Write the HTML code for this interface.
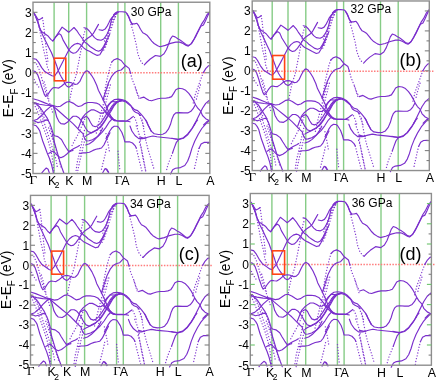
<!DOCTYPE html>
<html><head><meta charset="utf-8"><style>
*{margin:0;padding:0}
html,body{width:438px;height:380px;background:#fff;overflow:hidden}
svg{display:block;position:absolute;left:0;top:0;will-change:transform}
text{font-family:"Liberation Sans",sans-serif;fill:#000}
.g{stroke:#86cc86;stroke-width:1.4}
.r{stroke:#ff7c7c;stroke-width:1.4;stroke-dasharray:1.5 1.4}
.fr{fill:none;stroke:#8e8e8e;stroke-width:1.4}
.t{stroke:#808080;stroke-width:1.1}
.tl{font-size:12px;text-anchor:end}
.xl{font-size:12.4px}
.xg{font-family:"Liberation Serif",serif;font-size:13px}
.sub{font-size:8.5px}
.pr{font-size:12px}
.lb{font-size:18px}
.ob{fill:none;stroke:#ff4515;stroke-width:1.6}
.yl{font-size:14px}
.ysub{font-size:10px}
.s{fill:none;stroke:#7a2ecc;stroke-width:1.15;stroke-linejoin:round;stroke-linecap:round}
.d{fill:none;stroke:#8038d0;stroke-width:1.35;stroke-dasharray:0.01 2.9;stroke-linecap:round}
</style></head><body>
<svg width="438" height="380" viewBox="0 0 438 380">
<line x1="54.1" y1="2.23" x2="54.1" y2="173.5" class="g"/>
<line x1="68.7" y1="2.23" x2="68.7" y2="173.5" class="g"/>
<line x1="86.6" y1="2.23" x2="86.6" y2="173.5" class="g"/>
<line x1="117.9" y1="2.23" x2="117.9" y2="173.5" class="g"/>
<line x1="124.9" y1="2.23" x2="124.9" y2="173.5" class="g"/>
<line x1="160.7" y1="2.23" x2="160.7" y2="173.5" class="g"/>
<line x1="178.4" y1="2.23" x2="178.4" y2="173.5" class="g"/>
<line x1="33" y1="72.75" x2="207" y2="72.75" class="r"/>
<polyline points="33.4,12.3 36.2,16.5 38.5,20 40.5,19 42.5,17.8" class="s"/>
<polyline points="33.4,12.3 35.5,16 37.7,22 39.3,27.3 41.4,31.5 44.5,33.6 47.7,35.7 50.8,39.4 52.9,41 54.5,38.8 57.2,34.6 60,30.4 62.1,27.1 65.6,29.8 68.7,32.3 70.9,30.4 74,27.5 77.2,31.2 79,34 81.2,37 83,39.5 84.1,41.4 85.6,42.8 87.8,44.3 90,46.5 92.7,48.3 95.8,50.3 98.5,51.2 101.1,50.1 103.7,46.2 105.7,42.2 107.7,38.3 109.7,34.3" class="s"/>
<polyline points="52.9,41 55.5,37 57.5,35 59.1,33.6 61,35 62,37.3 63,39.9 66.2,45.4 68.8,49.9 70.8,52.1 73.1,53.3 75.6,52.8 77.9,50.6 79.7,48 81.5,45.7 83,43.2 84.1,41.4 86.3,39.2 88,38 90.6,36.3 93.2,33.7 95.8,29.1 98.5,24.4" class="s"/>
<polyline points="34.5,14 36.5,18.5 38.2,22.5 39.8,28.3 42.4,34.6 45.6,40.9 48.7,47.3 51.4,52.5 53.5,57.8 55.1,61.5 56.7,65.7 58.2,70.5 60,74.5 61.4,77.1 63.7,80.8 64.6,83.1 66.4,85.8 68.7,87.2 70.5,86.3 72.6,84" class="s"/>
<polyline points="33,58.6 36.2,59.3 38.5,62.1 41.7,67.6 44.8,71.6 48.8,74 52,75.8 54.3,76.3 56.7,73 58.2,70.7 61.4,64.5 64.6,58.2 67,53.4 68.8,49.9 71.6,46.5 74.5,44.3 77.5,43.4 79.7,44 81.5,45.7 83.4,47.6 85.2,49.1 87.1,50.2 90,51.6 93.2,53.4 97.2,55.4 99.8,54.7 101.8,51.4 103.7,47.5 106.4,42.2" class="s"/>
<polyline points="84,27.7 86.4,28.2 89.3,31 91.9,34.3 94.5,37.6 97.2,39.6 101.1,40.2 103.7,38.9 105.7,36.3 107.7,33 109.7,27.5 110.5,24 111.6,19 114.3,14.5 118,12" class="s"/>
<polyline points="99.1,29.7 102.4,30.4 105.1,29.1 107,26.4 109,22.5 110.3,19.8 112.3,17.2 115.6,13.9 118,12.4" class="s"/>
<polyline points="113.5,15 115,13.3 116.8,12.1 118.6,11.7 122.1,11.7 125.7,12.1 126.8,13.3 128.6,16.2 130.4,21 132.2,23.9 134.5,23.9 136.9,23.3 138.7,25.7 140.5,29.3 142.8,32.8 145.2,34 147,35.2 149.4,38.1 151.7,41.1 154.1,43.5 157.7,45.8 160,46.7 165.3,45.4 170.5,43.4 175.8,42.1 179.7,42.1 183,43.4 186.3,45.4 188.3,46.1 190.9,44.1 193.6,40.2 196.2,35.6 198.8,30.3 200.8,26.3 203.4,25 205.4,21.1 207.4,16.5 209.5,12.3" class="s"/>
<polyline points="126.8,13.6 128.8,17.2 130.6,21.8 132.4,24.6" class="s"/>
<polyline points="144.3,64.9 147,62 150.3,59 155.4,55.5 160.5,56.4 164,53.8 166.5,49.5 168.6,44.1 170.5,38.8 172.5,36 175.1,36.9 177.8,38.8 180.4,40.2 183,42.1 186.3,44.8 188.9,45.4 191.6,43.4 194.2,38.8 196.8,33.6 199.5,28.3 201.4,24.4 204.1,20.4 206.7,15.2 209.5,12" class="s"/>
<polyline points="33,70.8 35.4,71.6 37.7,74.8 40.1,81.5 41.5,86.4 43.1,90.8 44.2,94.1 45.6,96.5 47.5,95.2 49.2,92.4 50.8,90.2 52.4,88.3 54.1,87.5 56.3,87.8 58.7,88.1 61.4,86.3 64.6,83.5 66.5,82.4 68.7,82.2 70.8,82.6 72.8,83.5 75.1,84.4 77.4,84 79.7,81.7 81.9,77.1 83.8,73.5 85.6,71.2 87,70.7 88.8,71.7 91.5,75.3 93.8,79 96.7,85.3 98.4,90.3 101.1,95.5 103.7,100.8 106.3,106.1 108.3,111.3 110.9,116.6 113.6,119.2 116.2,120.5" class="s"/>
<polyline points="111.7,62.1 114.1,59.7 117.2,58.6 121.2,60.5 125.1,65.3 129.1,68.4 130.6,73.2" class="s"/>
<polyline points="103,100 105.4,92.1 108.5,82.7 111.7,76.3 114.9,72.4 118,70.8 121.2,70 125.1,66.1" class="s"/>
<polyline points="203.3,72.6 205.9,68.4 208.4,65.8 209.8,65.5" class="s"/>
<polyline points="140,98.3 143.7,97.1 146.3,98.7 148.9,100.3 151.6,100.8 154.7,99.7 157.9,98.7 161,98.2 165.3,98.2 168.9,97.6 171.6,96.6 173.7,93.4 175.8,89.7 178.8,88.2 182.5,88.7 185.7,90.3 188.8,93.4 191.5,97.1 193.6,100.8 195.7,105 197.8,108.2 200.4,110.8 202.5,115.5 205.7,118.7 209.6,120.8" class="s"/>
<polyline points="33,98.7 38.3,100.3 43.6,102.4 48.8,104.5 53.1,105.5 57.2,106.7 60.4,106.2 63.5,104.1 66.7,102 69.3,101.5 73,103.1 76.4,105.4 78.4,106.5 81.6,105.7 84.7,103.6 87.9,102.5 92.1,102.5 96.3,103.1 99.5,104.6 102.1,107.3 104.7,110.4 107.4,113.1 110,115.2 112.9,119.2 115.5,120.5 119.5,120.8 123.4,120.8 127.4,121.2 130,121.8" class="s"/>
<polyline points="33,102.4 36.2,103.4 39.4,104.3 45.6,105.2 50.5,105.5 53.1,105.8 56.2,108.8 60.4,112.5 64.6,116.2 68.8,119.9 73,123.6 76.4,127.1 79.5,130.5 83,133.7 84.6,138.4 86.4,141 89,140.8 92.5,139.7 97.8,136.6 102,132.4 105.7,127.6 109.4,121.8 112,119 114.5,120.6" class="s"/>
<polyline points="33,120.8 37.3,119.2 41.5,115.5 45.7,110.8 49.9,107.1 53.1,105.5" class="s"/>
<polyline points="53.1,105.8 55.2,110.8 56.7,117.1 58.8,121.3 60.9,123.6 64.6,124.1 67.7,122 69.3,119.9 71.4,117.8 73.2,116.2 76.3,116.2 78.9,117.8 81.1,120.4 83.2,123.6 85.5,128 88,131.5 91.5,132.9 96.7,130.3 101,126 104.6,120.8 107.5,116 110.5,110.5 113.5,105.5 117,101.8 121,100.2" class="s"/>
<polyline points="78.4,128 80.5,122.5 82.6,117.3 85.3,114.1 87.9,112 91.1,109.9 94.2,109.9 97.4,111.5 100,113.1 102.6,113.1 105.8,110.9 108.2,105.9 111.3,101.7 114.5,99.6 118.2,99.1 121.8,99.6 125,100.6 127.6,102.2 130.3,104.8 132.4,107.5 134.5,109.6 137.6,110.6 140.3,113.3 142.9,116.4 145,119.1 146.8,121.8 148,125 151.4,131.4 154.2,133.8 158.5,134.5 162.7,134.2 165.6,132.8 168.4,129.2 170.5,124.3 172.1,118.7 173.7,115 175.8,112.9 178.8,112.6 183.6,112.9 187.8,112.9 190.9,111.3 193.1,108.7 195.2,105" class="s"/>
<polyline points="82,118.5 83.7,117.8 86.3,116.2 88.4,118.3 90.5,122.5 92.6,125.7 95.3,126.7 97.9,125.7 100.5,123.1 103.2,119.4 105.8,115.2 107.9,112 110,109.4 112,106 114.5,103 118.2,101.7 121.8,100.6" class="s"/>
<polyline points="105,112.2 108.2,115.4 111.3,118.5 114.5,120.6 118.2,121.2 121.8,121.2 126.1,121.2 129.2,119.6 131.8,117.5 133.4,116.4" class="s"/>
<polyline points="106,108 109,104 112,101.5 115.5,101.7 121.8,100.6 126,102 131.3,106.4 133.4,110.6 135.5,112.2 138.5,113.5 140.5,115.5" class="s"/>
<polyline points="194.1,125 197.3,118.7 199.9,113.4 202.5,108.2 205.7,103.4 209.4,100.3" class="s"/>
<polyline points="203.6,125 206.7,121.8 209.4,120.3" class="s"/>
<polyline points="140,137 144.3,138.2 148.5,137 152.8,136 157,136.8 161.3,137.3 168.4,138 174.1,138.8 178.4,139.2 183.4,137.8 187.6,134.2 191.9,128.5 195.4,122.8 197.6,120" class="s"/>
<polyline points="172,138.2 178.4,139.6 183.4,138.3 187.6,134.8 191.9,129 195.4,123.3" class="s"/>
<polyline points="106,138.6 109.8,131 112,127.8 114.2,126.2 117,126.3 118.6,127.3 121.8,132.3 123.7,137.4 124.9,141.8 129.4,141.8 132.5,143 135,145.6 136.3,148.1" class="s"/>
<polyline points="130,126 131.9,131 135,135.5 138.8,138.6 142.6,138.6 146,138" class="s"/>
<polyline points="145.7,120 148.5,125.7 151.4,131.4" class="s"/>
<polyline points="178.4,139.9 176.2,142.7 174.1,148.4 172.5,153" class="s"/>
<polyline points="170.5,174 172.7,169.7 175.5,168.3 180.5,167.6 184.8,165.5 187.6,161.2 189.8,155.5 191.9,148.4 194.7,141.3 198.3,134.2 201.8,128.5 205.4,124.3 208.9,120.7" class="s"/>
<polyline points="199,148.4 201.1,144.1 204,142.4 207.5,142.3 209.6,142.4" class="s"/>
<polyline points="33,120.5 36.2,121.8 38,122.6 41.2,121.8 44.3,120.7 46.7,119.9 48.3,120.7 49.8,123.4 51,126.6 52.2,130.5 53.4,134.5 54.6,135.8 57.9,136.6 61.5,139.5 63.8,143.7 66.2,147.8 68.6,151.4 71,150.2 73.9,148.4 77.5,146.7 79.5,145.5" class="s"/>
<polyline points="48.7,153.4 51.8,151.6 53.6,151 56,154 58.4,156.4 60.8,157.7 63.9,156.4 66.9,154 68.7,152.2 71.1,151 73,150.4" class="s"/>
<polyline points="33.4,102.5 36.1,103.9 38.2,105.6 40.2,107.6 41.6,109.7 43,111.8 44.3,113.8 45.7,115.9 47.1,117.9 48.4,120.5" class="s"/>
<polyline points="52.6,135.3 53.8,140 55,144.5 57.2,152.2 59.6,160.7 62,168 63.9,173.3" class="s"/>
<polyline points="33,124.7 36.2,125.8 38.3,128.4 39.8,131 41,135.3 42.7,141 44.6,146 47,152.5 49.5,158.5 51.5,164.5 52.8,170 53.4,173.3" class="s"/>
<polyline points="41.5,173.3 43.9,170.4 46.3,168 48.1,169.2 49.3,172.8" class="s"/>
<polyline points="86.4,135.4 89.9,133.6 93.5,131.5 97.4,129.5 102,125.5 105.2,120.8 108.3,115.5 111,111.3 114,106 117,102.5 121,100.5" class="s"/>
<polyline points="85.7,145 89.4,143.7 93,141.3 96.6,137.7 100.3,132.8 102.7,128" class="s"/>
<polyline points="80.3,153.4 83.3,152.8 86.3,152.8 89.4,152.2 93,150.4 96,149.2 99.1,148.6 101.5,148 103.9,145 106.3,140.1 108.7,135.3 110,132.8" class="s"/>
<polyline points="102.7,172.8 105.1,168.6 106.9,169.2 108.7,172.2" class="s"/>
<polyline points="106,169 108.5,172.7" class="s"/>
<polyline points="48.4,120.5 49.5,124 50.5,128 51.5,131.5 52.6,135.3" class="d"/>
<polyline points="44.2,82 45,84.7 45.9,87.5 46.7,91.3 47.5,94.6 48.6,98.4 49.4,100.6" class="d"/>
<polyline points="34.5,13.5 36.6,18 38.4,23.4 39.8,30.4 40.8,35.7 41.9,40.9 42.9,46.2 44,51.5 45.1,55.7 46.1,59.9 47.2,66.5 49,71.3 50.8,74.8" class="d"/>
<polyline points="42.5,17.8 43.3,22.5 44.1,28.9 44.8,35.2 45.6,43.1 46.4,49.4 47.2,55.7 48,62" class="d"/>
<polyline points="36.6,64.1 38.9,68.9 40.1,72.4 41.9,78.4 43.1,83.1 44.8,89 46.5,95" class="d"/>
<polyline points="34.2,79.5 36,83 38,86 40.1,89" class="d"/>
<polyline points="69.7,100 70.9,93.7 72.3,87.4 73.5,83.5 74.3,80.6 75.9,75.8 77.5,67.9 79.1,60 80.6,52.1 82.2,45 83.8,34.7 85.5,29" class="d"/>
<polyline points="103.7,50 106,42 108,35 110,28 112,21 114,16 116.5,13 118,12.2" class="d"/>
<polyline points="105.5,47 108.2,39 110.5,31 112.5,25 114.5,18.5 116.5,14.3 118,12.6" class="d"/>
<polyline points="104.5,41 106.5,35.6 109,29 111,24 113.6,19.8 116,15" class="d"/>
<polyline points="131,24.5 132.8,30.4 134,35.2 135.1,39.9 136.3,44.7 137.8,53.7 140.1,60 142.5,63.5 144.3,64.9" class="d"/>
<polyline points="130.6,73.2 132.2,79.5 133.8,83.5 135.4,87.4 137.8,95.3 139.3,100" class="d"/>
<polyline points="111.7,62.1 110.1,66.8 108.5,73.2 107,79.5 105.4,87.4 103.8,98.4" class="d"/>
<polyline points="203.3,72.6 200.7,79.5 198.2,86.3 195.6,93.2 193.9,100 193,104" class="d"/>
<polyline points="200.4,85 198.8,90.3 197.3,95.5 196,100.8" class="d"/>
<polyline points="108.3,85 106.3,92.9 104.3,100.8 102.4,107.4 100.4,115.3 98.4,123.2 97.1,129.7 95.8,135" class="d"/>
<polyline points="110.3,85 108.3,92.9 106.3,100.8 104.3,108.7 102.4,116.6 101.1,124.5 99.7,135" class="d"/>
<polyline points="135.5,88 136.6,91.2 137.6,94.3 139.7,97.5" class="d"/>
<polyline points="134.5,117.5 135.5,119.6 136.6,122.7 137.6,125.9" class="d"/>
<polyline points="139.7,115.4 141.3,119.6 142.9,123.8 143.9,127" class="d"/>
<polyline points="47.8,98.2 48.8,101 50,104 51.5,108 52.5,112" class="d"/>
<polyline points="34,104 36.5,109 38.5,114 40.5,119.5 42.5,125 44.5,130.5 46.5,136 48.5,142 50.5,149 52,156 53,164 54.2,173.3" class="d"/>
<polyline points="36,103 38.5,108 41,113 43,119 45,125 47,131 49,137 51.2,144 53,150 55,156 56.5,162 57.5,168" class="d"/>
<polyline points="48.7,128 51.2,135.3 53.5,142 56,149.8 58.4,157.1 60,163 61.5,169" class="d"/>
<polyline points="38,104 40,108 42,112 43.5,116 45,120" class="d"/>
<polyline points="76.1,170.4 77.3,161.9 79.1,154.6 80.5,148 82,141 83.5,134 85,128" class="d"/>
<polyline points="77.3,173.3 78.5,167 80,160 81.5,154 83,147 84.5,141 86,135" class="d"/>
<polyline points="101.5,169.2 103.3,161.9 105.1,154.6 106.5,148" class="d"/>
<polyline points="72.1,145.5 74.5,140.7 76.9,136.6 79.3,131.8 81.6,126.5 83.4,122.4 85,118.5" class="d"/>
<polyline points="118,151.3 118.6,157.6 119.2,164 119.9,170.2" class="d"/>
<polyline points="136.3,148.1 137.6,153.5 138.8,158.5 140.1,163.5 141.3,168.5 142.6,172.7" class="d"/>
<polyline points="136.3,126 138.2,131 140,137.5 141,142" class="d"/>
<polyline points="139.5,142.4 141.4,148.5 142.6,154.7 143.9,161 145.1,167.2 146,172.7" class="d"/>
<polyline points="142.1,120 143.6,128.5 145.7,139.9 147.8,148.4 149.9,155.5 152.1,162.6 154.2,169.7" class="d"/>
<polyline points="140,141.3 141.5,150 143.6,161.2 145.7,171.1" class="d"/>
<polyline points="106,133.6 107.3,140 108.5,146 109.5,152" class="d"/>
<polyline points="172.5,153 169.8,159.8 167.7,165.5 166.3,171.1" class="d"/>
<polyline points="199,148.4 197.6,154.1 196.1,161.2 194.7,166.9 194,171.1" class="d"/>
<rect x="33" y="2.23" width="176.8" height="171.27" class="fr"/>
<line x1="33" y1="163.43" x2="35.8" y2="163.43" class="t"/>
<line x1="209.8" y1="163.43" x2="207" y2="163.43" class="t"/>
<line x1="33" y1="153.35" x2="37.5" y2="153.35" class="t"/>
<line x1="209.8" y1="153.35" x2="205.3" y2="153.35" class="t"/>
<line x1="33" y1="143.27" x2="35.8" y2="143.27" class="t"/>
<line x1="209.8" y1="143.27" x2="207" y2="143.27" class="t"/>
<line x1="33" y1="133.2" x2="37.5" y2="133.2" class="t"/>
<line x1="209.8" y1="133.2" x2="205.3" y2="133.2" class="t"/>
<line x1="33" y1="123.12" x2="35.8" y2="123.12" class="t"/>
<line x1="209.8" y1="123.12" x2="207" y2="123.12" class="t"/>
<line x1="33" y1="113.05" x2="37.5" y2="113.05" class="t"/>
<line x1="209.8" y1="113.05" x2="205.3" y2="113.05" class="t"/>
<line x1="33" y1="102.97" x2="35.8" y2="102.97" class="t"/>
<line x1="209.8" y1="102.97" x2="207" y2="102.97" class="t"/>
<line x1="33" y1="92.9" x2="37.5" y2="92.9" class="t"/>
<line x1="209.8" y1="92.9" x2="205.3" y2="92.9" class="t"/>
<line x1="33" y1="82.83" x2="35.8" y2="82.83" class="t"/>
<line x1="209.8" y1="82.83" x2="207" y2="82.83" class="t"/>
<line x1="33" y1="72.75" x2="37.5" y2="72.75" class="t"/>
<line x1="209.8" y1="72.75" x2="205.3" y2="72.75" class="t"/>
<line x1="33" y1="62.67" x2="35.8" y2="62.67" class="t"/>
<line x1="209.8" y1="62.67" x2="207" y2="62.67" class="t"/>
<line x1="33" y1="52.6" x2="37.5" y2="52.6" class="t"/>
<line x1="209.8" y1="52.6" x2="205.3" y2="52.6" class="t"/>
<line x1="33" y1="42.53" x2="35.8" y2="42.53" class="t"/>
<line x1="209.8" y1="42.53" x2="207" y2="42.53" class="t"/>
<line x1="33" y1="32.45" x2="37.5" y2="32.45" class="t"/>
<line x1="209.8" y1="32.45" x2="205.3" y2="32.45" class="t"/>
<line x1="33" y1="22.38" x2="35.8" y2="22.38" class="t"/>
<line x1="209.8" y1="22.38" x2="207" y2="22.38" class="t"/>
<line x1="33" y1="12.3" x2="37.5" y2="12.3" class="t"/>
<line x1="209.8" y1="12.3" x2="205.3" y2="12.3" class="t"/>
<text x="31.6" y="177.8" class="tl">-5</text>
<text x="31.6" y="157.65" class="tl">-4</text>
<text x="31.6" y="137.5" class="tl">-3</text>
<text x="31.6" y="117.35" class="tl">-2</text>
<text x="31.6" y="97.2" class="tl">-1</text>
<text x="31.6" y="77.05" class="tl">0</text>
<text x="31.6" y="56.9" class="tl">1</text>
<text x="31.6" y="36.75" class="tl">2</text>
<text x="31.6" y="16.6" class="tl">3</text>
<text x="29.4" y="183.8" class="xg">Γ</text>
<text x="48" y="184.8" class="xl">K</text><text x="54.8" y="188.2" class="sub">2</text>
<text x="69.3" y="184.8" class="xl" text-anchor="middle">K</text>
<text x="87.2" y="184.8" class="xl" text-anchor="middle">M</text>
<text x="114.7" y="183.8" class="xg">Γ</text>
<text x="125.5" y="184.8" class="xl" text-anchor="middle">A</text>
<text x="161.3" y="184.8" class="xl" text-anchor="middle">H</text>
<text x="179" y="184.8" class="xl" text-anchor="middle">L</text>
<text x="210.4" y="184.8" class="xl" text-anchor="middle">A</text>
<text x="130.8" y="15.6" class="pr">30 GPa</text>
<text x="180.7" y="67" class="lb">(a)</text>
<rect x="54.4" y="58.2" width="11.4" height="22.6" class="ob"/>
<text transform="translate(13.4,117.3) rotate(-90) scale(0.974,1)" class="yl">E-E<tspan class="ysub" dy="4.2">F</tspan><tspan dy="-4.2"> (eV)</tspan></text>
<line x1="272.2" y1="0.97" x2="272.2" y2="170.55" class="g"/>
<line x1="288" y1="0.97" x2="288" y2="170.55" class="g"/>
<line x1="305.8" y1="0.97" x2="305.8" y2="170.55" class="g"/>
<line x1="336.8" y1="0.97" x2="336.8" y2="170.55" class="g"/>
<line x1="343.6" y1="0.97" x2="343.6" y2="170.55" class="g"/>
<line x1="380.5" y1="0.97" x2="380.5" y2="170.55" class="g"/>
<line x1="398.2" y1="0.97" x2="398.2" y2="170.55" class="g"/>
<line x1="252.2" y1="71.3" x2="433.4" y2="71.3" class="r"/>
<polyline points="252.58,10.25 255.23,14.47 257.41,17.98 259.31,16.98 261.2,15.77" class="s"/>
<polyline points="252.58,10.25 254.57,13.97 256.65,19.99 258.17,25.31 260.16,29.53 263.1,31.64 266.13,33.75 269.07,37.48 271.06,39.1 272.63,36.88 275.55,32.65 278.58,28.43 280.86,25.11 284.65,27.82 288,30.33 290.19,28.42 293.27,25.51 296.45,29.23 298.24,32.04 300.43,35.05 302.22,37.56 303.31,39.47 304.81,40.87 306.99,42.38 309.17,44.59 311.84,46.39 314.91,48.4 317.59,49.3 320.16,48.2 322.74,44.29 324.72,40.27 326.7,36.35 328.68,32.34" class="s"/>
<polyline points="271.06,39.1 273.72,35.06 275.88,33.05 277.61,31.64 279.67,33.05 280.75,35.37 281.83,37.99 285.29,43.53 288.1,48.06 290.09,50.26 292.38,51.45 294.86,50.92 297.15,48.71 298.94,46.09 300.73,43.78 302.22,41.27 303.31,39.47 305.5,37.26 307.19,36.05 309.76,34.35 312.34,31.74 314.91,27.12 317.59,22.4" class="s"/>
<polyline points="253.62,11.96 255.52,16.48 257.13,20.49 258.65,26.31 261.11,32.64 264.14,38.97 267.08,45.44 269.64,50.79 271.63,56.33 273.28,60.25 275.01,64.67 276.64,69.58 278.58,73.52 280.1,76 282.59,79.48 283.56,81.67 285.51,84.24 288,85.56 289.79,84.62 291.88,82.29" class="s"/>
<polyline points="252.2,56.73 255.23,57.44 257.41,60.26 260.45,65.82 263.38,69.93 267.18,72.54 270.21,74.55 272.42,75.19 275.01,72.05 276.64,69.78 280.1,63.37 283.56,56.68 286.16,51.66 288.1,48.06 290.88,44.6 293.77,42.38 296.75,41.48 298.94,42.08 300.73,43.78 302.62,45.69 304.41,47.2 306.3,48.3 309.17,49.71 312.34,51.51 316.3,53.52 318.87,52.82 320.85,49.51 322.74,45.59 325.41,40.27" class="s"/>
<polyline points="303.21,25.71 305.6,26.21 308.47,29.03 311.05,32.34 313.62,35.65 316.3,37.66 320.16,38.26 322.74,36.96 324.72,34.35 326.7,31.03 328.68,25.51 329.47,22 330.56,16.98 333.23,12.46 336.9,9.95" class="s"/>
<polyline points="318.18,27.72 321.45,28.42 324.12,27.12 326,24.41 327.99,20.49 329.27,17.78 331.25,15.17 334.52,11.86 336.9,10.35" class="s"/>
<polyline points="332.44,12.96 333.93,11.26 335.71,10.05 337.48,9.66 340.88,9.66 344.42,10.05 345.56,11.26 347.41,14.17 349.27,18.99 351.12,21.9 353.49,21.9 355.97,21.3 357.82,23.7 359.68,27.32 362.05,30.83 364.52,32.04 366.38,33.24 368.85,36.15 371.22,39.17 373.7,41.57 377.41,43.88 379.78,44.79 385.1,43.48 390.3,41.47 395.6,40.17 399.49,40.17 402.76,41.47 406.02,43.48 408.01,44.18 410.58,42.18 413.25,38.26 415.83,33.64 418.41,28.32 420.39,24.31 422.96,23 424.94,19.09 426.92,14.47 429,10.25" class="s"/>
<polyline points="345.56,11.56 347.62,15.17 349.48,19.79 351.33,22.6" class="s"/>
<polyline points="363.6,63.06 366.38,60.15 369.78,57.14 375.04,53.62 380.29,54.53 383.8,51.92 386.3,47.6 388.4,42.18 390.3,36.86 392.3,34.05 394.9,34.95 397.6,36.86 400.18,38.26 402.76,40.17 406.02,42.88 408.6,43.48 411.27,41.47 413.85,36.86 416.42,31.64 419.1,26.31 420.98,22.4 423.65,18.38 426.23,13.16 429,9.95" class="s"/>
<polyline points="252.2,68.98 254.47,69.79 256.65,73.01 258.93,79.75 260.26,84.67 261.77,89.08 262.82,92.39 264.14,94.8 265.94,93.51 267.56,90.74 269.07,88.59 270.59,86.76 272.2,86.03 274.58,86.36 277.18,86.66 280.1,84.88 283.56,82.06 285.62,80.9 288,80.61 290.09,80.94 292.08,81.79 294.36,82.66 296.65,82.25 298.94,79.93 301.13,75.31 303.02,71.69 304.81,69.38 306.2,68.88 307.98,69.89 310.65,73.5 312.93,77.21 315.8,83.54 317.49,88.56 320.16,93.78 322.74,99.1 325.31,104.42 327.29,109.64 329.87,114.91 332.54,117.49 335.12,118.77" class="s"/>
<polyline points="330.66,60.25 333.04,57.84 336.11,56.73 340.01,58.64 343.81,63.46 347.93,66.57 349.48,71.39" class="s"/>
<polyline points="322.04,98.3 324.42,90.37 327.49,80.93 330.66,74.5 333.83,70.59 336.9,68.98 340.01,68.18 343.81,64.26" class="s"/>
<polyline points="422.86,70.79 425.44,66.57 427.91,63.96 429.3,63.66" class="s"/>
<polyline points="359.16,96.59 362.98,95.39 365.66,96.99 368.34,98.6 371.12,99.1 374.32,98 377.61,96.99 380.8,96.49 385.1,96.49 388.7,95.89 391.4,94.88 393.5,91.67 395.6,87.96 398.6,86.45 402.26,86.95 405.43,88.56 408.5,91.67 411.17,95.39 413.25,99.1 415.33,103.32 417.41,106.53 419.99,109.14 422.07,113.82 425.24,116.99 429.1,119.07" class="s"/>
<polyline points="252.2,96.99 257.22,98.6 262.25,100.71 267.18,102.82 271.25,103.83 275.55,105.03 279.02,104.53 282.37,102.43 285.84,100.32 288.6,99.81 292.28,101.41 295.66,103.72 297.65,104.82 300.83,104.02 303.91,101.91 307.09,100.81 311.25,100.81 315.41,101.41 318.58,102.91 321.15,105.63 323.73,108.74 326.4,111.45 328.98,113.53 331.85,117.49 334.42,118.77 338.35,119.07 342.14,119.07 346.18,119.47 348.86,120.06" class="s"/>
<polyline points="252.2,100.71 255.23,101.71 258.27,102.61 264.14,103.52 268.79,103.83 271.25,104.13 274.47,107.14 279.02,110.85 283.56,114.52 288.1,118.18 292.28,121.84 295.66,125.31 298.74,128.68 302.22,131.84 303.81,136.5 305.6,139.07 308.18,138.87 311.64,137.78 316.89,134.71 321.05,130.56 324.72,125.8 328.38,120.06 330.96,117.29 333.43,118.87" class="s"/>
<polyline points="252.2,119.07 256.28,117.49 260.26,113.82 264.24,109.14 268.22,105.43 271.25,103.83" class="s"/>
<polyline points="271.25,104.13 273.39,109.14 275.01,115.41 277.29,119.57 279.56,121.84 283.56,122.34 286.92,120.26 288.6,118.18 290.68,116.1 292.47,114.52 295.56,114.52 298.14,116.1 300.33,118.68 302.42,121.84 304.71,126.2 307.19,129.67 310.65,131.05 315.8,128.48 320.06,124.22 323.63,119.07 326.5,114.32 329.47,108.84 332.44,103.82 335.91,100.1 339.81,98.5" class="s"/>
<polyline points="297.65,126.2 299.73,120.75 301.82,115.61 304.51,112.44 307.09,110.34 310.26,108.24 313.33,108.24 316.5,109.84 319.07,111.45 321.65,111.45 324.82,109.24 327.19,104.22 330.26,100 333.43,97.9 337.09,97.39 340.59,97.9 343.7,98.9 346.38,100.51 349.17,103.12 351.33,105.83 353.49,107.93 356.69,108.94 359.47,111.65 362.15,114.71 364.32,117.39 366.17,120.06 367.41,123.23 370.91,129.57 373.8,131.94 378.23,132.64 382.5,132.34 385.4,130.95 388.2,127.39 390.3,122.54 391.9,116.99 393.5,113.33 395.6,111.25 398.6,110.95 403.35,111.25 407.51,111.25 410.58,109.64 412.76,107.03 414.84,103.32" class="s"/>
<polyline points="301.23,116.79 302.92,116.1 305.5,114.52 307.58,116.6 309.66,120.75 311.74,123.92 314.42,124.91 316.99,123.92 319.57,121.35 322.24,117.69 324.82,113.53 326.9,110.34 328.98,107.73 330.96,104.32 333.43,101.31 337.09,100 340.59,98.9" class="s"/>
<polyline points="324.02,110.54 327.19,113.72 330.26,116.79 333.43,118.87 337.09,119.47 340.59,119.47 344.84,119.47 348.03,117.88 350.71,115.8 352.36,114.71" class="s"/>
<polyline points="325.01,106.33 327.99,102.31 330.96,99.8 334.42,100 340.59,98.9 344.73,100.3 350.2,104.72 352.36,108.94 354.53,110.54 357.62,111.84 359.68,113.82" class="s"/>
<polyline points="413.75,123.23 416.92,116.99 419.49,111.74 422.07,106.53 425.24,101.71 428.9,98.6" class="s"/>
<polyline points="423.16,123.23 426.23,120.06 428.9,118.58" class="s"/>
<polyline points="359.16,135.11 363.6,136.3 367.93,135.11 372.36,134.12 376.69,134.91 381.1,135.41 388.2,136.1 393.9,136.89 398.2,137.29 403.15,135.9 407.31,132.34 411.57,126.69 415.04,121.05 417.22,118.28" class="s"/>
<polyline points="391.8,136.3 398.2,137.68 403.15,136.4 407.31,132.93 411.57,127.19 415.04,121.55" class="s"/>
<polyline points="325.01,136.69 328.78,129.17 330.96,126 333.14,124.42 335.91,124.52 337.48,125.51 340.59,130.46 342.43,135.51 343.6,139.86 348.24,139.86 351.43,141.05 354.01,143.63 355.35,146.1" class="s"/>
<polyline points="348.86,124.22 350.82,129.17 354.01,133.63 357.93,136.69 361.84,136.69 365.35,136.1" class="s"/>
<polyline points="365.04,118.28 367.93,123.92 370.91,129.57" class="s"/>
<polyline points="398.2,137.98 396,140.75 393.9,146.4 392.3,150.95" class="s"/>
<polyline points="390.3,171.74 392.5,167.49 395.3,166.1 400.28,165.41 404.54,163.33 407.31,159.07 409.49,153.43 411.57,146.4 414.34,139.37 417.91,132.34 421.38,126.69 424.94,122.54 428.41,118.97" class="s"/>
<polyline points="418.6,146.4 420.68,142.14 423.56,140.46 427.02,140.36 429.1,140.46" class="s"/>
<polyline points="252.2,118.77 255.23,120.06 256.94,120.85 259.97,120.06 262.91,118.97 265.19,118.18 266.7,118.97 268.12,121.65 269.26,124.81 270.4,128.68 271.54,132.64 272.74,133.92 276.31,134.71 280.21,137.59 282.7,141.74 285.29,145.8 287.89,149.37 290.29,148.18 293.17,146.4 296.75,144.71 298.74,143.53" class="s"/>
<polyline points="267.08,151.35 270.02,149.57 271.73,148.97 274.26,151.94 276.85,154.32 279.45,155.61 282.81,154.32 286.05,151.94 288,150.16 290.39,148.97 292.28,148.38" class="s"/>
<polyline points="252.58,100.81 255.14,102.21 257.13,103.92 259.02,105.93 260.35,108.04 261.68,110.14 262.91,112.14 264.24,114.22 265.56,116.2 266.8,118.77" class="s"/>
<polyline points="270.78,133.43 271.92,138.08 273.17,142.54 275.55,150.16 278.15,158.58 280.75,165.8 282.81,171.05" class="s"/>
<polyline points="252.2,122.93 255.23,124.02 257.22,126.6 258.65,129.17 259.78,133.43 261.39,139.07 263.2,144.02 265.47,150.46 267.84,156.4 269.74,162.34 270.97,167.78 271.54,171.05" class="s"/>
<polyline points="260.26,171.05 262.53,168.18 264.81,165.8 266.51,166.99 267.65,170.56" class="s"/>
<polyline points="305.6,133.53 309.07,131.74 312.63,129.67 316.5,127.68 321.05,123.72 324.22,119.07 327.29,113.82 329.97,109.64 332.94,104.32 335.91,100.81 339.81,98.8" class="s"/>
<polyline points="304.91,143.03 308.57,141.74 312.14,139.37 315.7,135.8 319.37,130.95 321.75,126.2" class="s"/>
<polyline points="299.54,151.35 302.52,150.75 305.5,150.75 308.57,150.16 312.14,148.38 315.11,147.19 318.18,146.6 320.56,146 322.93,143.03 325.31,138.18 327.69,133.43 328.98,130.95" class="s"/>
<polyline points="321.75,170.56 324.12,166.4 325.91,166.99 327.69,169.96" class="s"/>
<polyline points="325.01,166.79 327.49,170.46" class="s"/>
<polyline points="266.8,118.77 267.84,122.24 268.79,126.2 269.74,129.67 270.78,133.43" class="d"/>
<polyline points="262.82,80.3 263.57,83.01 264.43,85.82 265.19,89.61 265.94,92.91 266.99,96.71 267.75,98.92" class="d"/>
<polyline points="253.62,11.46 255.61,15.97 257.32,21.4 258.65,28.42 259.59,33.74 260.64,38.97 261.58,44.3 262.63,49.64 263.67,53.89 264.62,58.17 265.66,64.91 267.37,69.86 269.07,73.48" class="d"/>
<polyline points="261.2,15.77 261.96,20.49 262.72,26.92 263.38,33.24 264.14,41.19 264.9,47.54 265.66,53.94 266.42,60.39" class="d"/>
<polyline points="255.61,62.26 257.79,67.09 258.93,70.62 260.64,76.66 261.77,81.38 263.38,87.3 265,93.3" class="d"/>
<polyline points="253.34,77.72 255.04,81.23 256.94,84.25 258.93,87.26" class="d"/>
<polyline points="288.99,98.31 290.19,92 291.58,85.69 292.77,81.78 293.57,78.87 295.16,74.04 296.75,66.09 298.34,58.15 299.83,50.21 301.42,43.08 303.02,32.74 304.71,27.02" class="d"/>
<polyline points="322.74,48.1 325.01,40.07 326.99,33.04 328.98,26.01 330.96,18.99 332.94,13.97 335.41,10.95 336.9,10.15" class="d"/>
<polyline points="324.52,45.09 327.19,37.06 329.47,29.03 331.45,23 333.43,16.48 335.41,12.26 336.9,10.55" class="d"/>
<polyline points="323.53,39.06 325.51,33.64 327.99,27.02 329.97,22 332.54,17.78 334.92,12.96" class="d"/>
<polyline points="349.89,22.5 351.74,28.42 352.98,33.24 354.11,37.96 355.35,42.78 356.9,51.81 359.27,58.14 361.74,61.65 363.6,63.06" class="d"/>
<polyline points="349.48,71.39 351.12,77.72 352.77,81.73 354.42,85.65 356.9,93.58 358.44,98.3" class="d"/>
<polyline points="330.66,60.25 329.07,64.97 327.49,71.39 326,77.72 324.42,85.65 322.84,96.69" class="d"/>
<polyline points="422.86,70.79 420.29,77.72 417.81,84.54 415.24,91.47 413.55,98.3 412.66,102.31" class="d"/>
<polyline points="419.99,83.24 418.41,88.56 416.92,93.78 415.63,99.1" class="d"/>
<polyline points="327.29,83.24 325.31,91.17 323.33,99.1 321.45,105.73 319.47,113.63 317.49,121.45 316.2,127.88 314.91,133.13" class="d"/>
<polyline points="329.27,83.24 327.29,91.17 325.31,99.1 323.33,107.03 321.45,114.91 320.16,122.73 318.77,133.13" class="d"/>
<polyline points="354.53,86.25 355.66,89.46 356.69,92.57 358.85,95.79" class="d"/>
<polyline points="353.49,115.8 354.53,117.88 355.66,120.95 356.69,124.12" class="d"/>
<polyline points="358.85,113.72 360.5,117.88 362.15,122.04 363.18,125.21" class="d"/>
<polyline points="266.23,96.51 267.18,99.32 268.31,102.32 269.74,106.33 270.68,110.35" class="d"/>
<polyline points="253.15,102.31 255.52,107.33 257.41,112.34 259.31,117.78 261.2,123.23 263.1,128.68 265,134.12 266.89,140.06 268.79,146.99 270.21,153.92 271.16,161.84 272.31,171.05" class="d"/>
<polyline points="255.04,101.31 257.41,106.33 259.78,111.35 261.68,117.29 263.57,123.23 265.47,129.17 267.37,135.11 269.45,142.04 271.16,147.98 273.17,153.92 274.8,159.86 275.88,165.8" class="d"/>
<polyline points="267.08,126.2 269.45,133.43 271.63,140.06 274.26,147.78 276.85,155.01 278.58,160.85 280.21,166.79" class="d"/>
<polyline points="256.94,102.31 258.84,106.33 260.73,110.34 262.15,114.32 263.57,118.28" class="d"/>
<polyline points="295.36,168.18 296.55,159.76 298.34,152.54 299.73,146 301.23,139.07 302.72,132.14 304.21,126.2" class="d"/>
<polyline points="296.55,171.05 297.75,164.81 299.24,157.88 300.73,151.94 302.22,145.01 303.71,139.07 305.2,133.13" class="d"/>
<polyline points="320.56,166.99 322.34,159.76 324.12,152.54 325.51,146" class="d"/>
<polyline points="291.38,143.53 293.77,138.77 296.15,134.71 298.54,129.96 300.83,124.71 302.62,120.66 304.21,116.79" class="d"/>
<polyline points="336.9,149.27 337.48,155.51 338.06,161.84 338.74,167.98" class="d"/>
<polyline points="355.35,146.1 356.69,151.45 357.93,156.4 359.27,161.35 360.5,166.3 361.84,170.46" class="d"/>
<polyline points="355.35,124.22 357.31,129.17 359.16,135.61 360.19,140.06" class="d"/>
<polyline points="358.65,140.46 360.61,146.5 361.84,152.63 363.18,158.87 364.42,165.01 365.35,170.46" class="d"/>
<polyline points="361.33,118.28 362.87,126.69 365.04,137.98 367.2,146.4 369.37,153.43 371.64,160.46 373.8,167.49" class="d"/>
<polyline points="359.16,139.37 360.71,147.98 362.87,159.07 365.04,168.87" class="d"/>
<polyline points="325.01,131.74 326.3,138.08 327.49,144.02 328.48,149.96" class="d"/>
<polyline points="392.3,150.95 389.6,157.68 387.5,163.33 386.1,168.87" class="d"/>
<polyline points="418.6,146.4 417.22,152.04 415.73,159.07 414.34,164.71 413.65,168.87" class="d"/>
<rect x="252.2" y="0.97" width="177.1" height="169.58" class="fr"/>
<line x1="252.2" y1="160.57" x2="255" y2="160.57" class="t"/>
<line x1="429.3" y1="160.57" x2="426.5" y2="160.57" class="t"/>
<line x1="252.2" y1="150.6" x2="256.7" y2="150.6" class="t"/>
<line x1="429.3" y1="150.6" x2="424.8" y2="150.6" class="t"/>
<line x1="252.2" y1="140.62" x2="255" y2="140.62" class="t"/>
<line x1="429.3" y1="140.62" x2="426.5" y2="140.62" class="t"/>
<line x1="252.2" y1="130.65" x2="256.7" y2="130.65" class="t"/>
<line x1="429.3" y1="130.65" x2="424.8" y2="130.65" class="t"/>
<line x1="252.2" y1="120.67" x2="255" y2="120.67" class="t"/>
<line x1="429.3" y1="120.67" x2="426.5" y2="120.67" class="t"/>
<line x1="252.2" y1="110.7" x2="256.7" y2="110.7" class="t"/>
<line x1="429.3" y1="110.7" x2="424.8" y2="110.7" class="t"/>
<line x1="252.2" y1="100.72" x2="255" y2="100.72" class="t"/>
<line x1="429.3" y1="100.72" x2="426.5" y2="100.72" class="t"/>
<line x1="252.2" y1="90.75" x2="256.7" y2="90.75" class="t"/>
<line x1="429.3" y1="90.75" x2="424.8" y2="90.75" class="t"/>
<line x1="252.2" y1="80.77" x2="255" y2="80.77" class="t"/>
<line x1="429.3" y1="80.77" x2="426.5" y2="80.77" class="t"/>
<line x1="252.2" y1="70.8" x2="256.7" y2="70.8" class="t"/>
<line x1="429.3" y1="70.8" x2="424.8" y2="70.8" class="t"/>
<line x1="252.2" y1="60.82" x2="255" y2="60.82" class="t"/>
<line x1="429.3" y1="60.82" x2="426.5" y2="60.82" class="t"/>
<line x1="252.2" y1="50.85" x2="256.7" y2="50.85" class="t"/>
<line x1="429.3" y1="50.85" x2="424.8" y2="50.85" class="t"/>
<line x1="252.2" y1="40.88" x2="255" y2="40.88" class="t"/>
<line x1="429.3" y1="40.88" x2="426.5" y2="40.88" class="t"/>
<line x1="252.2" y1="30.9" x2="256.7" y2="30.9" class="t"/>
<line x1="429.3" y1="30.9" x2="424.8" y2="30.9" class="t"/>
<line x1="252.2" y1="20.92" x2="255" y2="20.92" class="t"/>
<line x1="429.3" y1="20.92" x2="426.5" y2="20.92" class="t"/>
<line x1="252.2" y1="10.95" x2="256.7" y2="10.95" class="t"/>
<line x1="429.3" y1="10.95" x2="424.8" y2="10.95" class="t"/>
<text x="250.8" y="174.85" class="tl">-5</text>
<text x="250.8" y="154.9" class="tl">-4</text>
<text x="250.8" y="134.95" class="tl">-3</text>
<text x="250.8" y="115" class="tl">-2</text>
<text x="250.8" y="95.05" class="tl">-1</text>
<text x="250.8" y="75.1" class="tl">0</text>
<text x="250.8" y="55.15" class="tl">1</text>
<text x="250.8" y="35.2" class="tl">2</text>
<text x="250.8" y="15.25" class="tl">3</text>
<text x="248.6" y="180.85" class="xg">Γ</text>
<text x="267.4" y="181.85" class="xl">K</text><text x="274.2" y="185.25" class="sub">2</text>
<text x="288.6" y="181.85" class="xl" text-anchor="middle">K</text>
<text x="306.4" y="181.85" class="xl" text-anchor="middle">M</text>
<text x="333.6" y="180.85" class="xg">Γ</text>
<text x="344.2" y="181.85" class="xl" text-anchor="middle">A</text>
<text x="381.1" y="181.85" class="xl" text-anchor="middle">H</text>
<text x="398.8" y="181.85" class="xl" text-anchor="middle">L</text>
<text x="429.9" y="181.85" class="xl" text-anchor="middle">A</text>
<text x="350.5" y="13.2" class="pr">32 GPa</text>
<text x="399.4" y="66.3" class="lb">(b)</text>
<rect x="272.7" y="55.5" width="11.9" height="23.7" class="ob"/>
<text transform="translate(232.6,114.7) rotate(-90) scale(0.974,1)" class="yl">E-E<tspan class="ysub" dy="4.2">F</tspan><tspan dy="-4.2"> (eV)</tspan></text>
<line x1="51.1" y1="195.38" x2="51.1" y2="364.95" class="g"/>
<line x1="66.6" y1="195.38" x2="66.6" y2="364.95" class="g"/>
<line x1="84.6" y1="195.38" x2="84.6" y2="364.95" class="g"/>
<line x1="116.55" y1="195.38" x2="116.55" y2="364.95" class="g"/>
<line x1="123.3" y1="195.38" x2="123.3" y2="364.95" class="g"/>
<line x1="159.6" y1="195.38" x2="159.6" y2="364.95" class="g"/>
<line x1="177.6" y1="195.38" x2="177.6" y2="364.95" class="g"/>
<line x1="30.5" y1="265.45" x2="212.9" y2="265.45" class="r"/>
<polyline points="30.89,203.85 33.62,208.14 35.87,211.71 37.82,210.69 39.77,209.46" class="s"/>
<polyline points="30.89,203.85 32.94,207.63 35.09,213.75 36.65,219.15 38.7,223.43 41.73,225.58 44.85,227.72 47.88,231.51 49.93,233.17 51.52,230.91 54.39,226.61 57.36,222.32 59.59,218.95 63.31,221.7 66.6,224.25 68.81,222.31 71.93,219.35 75.15,223.13 76.96,225.98 79.17,229.04 80.98,231.59 82.09,233.53 83.59,234.96 85.82,236.49 88.07,238.73 90.83,240.57 93.99,242.61 96.75,243.52 99.4,242.4 102.06,238.42 104.1,234.35 106.14,230.37 108.18,226.29" class="s"/>
<polyline points="49.93,233.17 52.59,229.06 54.71,227.02 56.41,225.58 58.43,227.02 59.49,229.37 60.55,232.04 63.95,237.68 66.7,242.29 68.71,244.52 71.02,245.71 73.54,245.18 75.85,242.92 77.66,240.26 79.47,237.91 80.98,235.37 82.09,233.53 84.3,231.29 86.03,230.06 88.68,228.33 91.34,225.68 93.99,220.99 96.75,216.19" class="s"/>
<polyline points="31.96,205.59 33.92,210.18 35.58,214.26 37.14,220.17 39.68,226.6 42.8,233.03 45.83,239.62 48.46,245.12 50.51,250.87 52.16,254.97 53.86,259.57 55.45,264.6 57.36,268.56 58.85,271.01 61.29,274.41 62.25,276.57 64.16,279.11 66.6,280.4 68.41,279.44 70.52,277.06" class="s"/>
<polyline points="30.5,251.07 33.62,251.79 35.87,254.66 38.99,260.33 42.02,264.55 45.93,267.32 49.05,269.46 51.31,270.18 53.86,267.09 55.45,264.81 58.85,258.19 62.25,251.19 64.8,245.99 66.7,242.29 69.52,238.76 72.43,236.49 75.45,235.57 77.66,236.18 79.47,237.91 81.38,239.85 83.19,241.38 85.11,242.5 88.07,243.93 91.34,245.77 95.42,247.81 98.07,247.09 100.12,243.73 102.06,239.75 104.81,234.35" class="s"/>
<polyline points="81.99,219.56 84.4,220.07 87.36,222.92 90.01,226.29 92.66,229.65 95.42,231.69 99.4,232.31 102.06,230.98 104.1,228.33 106.14,224.96 108.18,219.35 109,215.79 110.12,210.69 112.88,206.1 116.65,203.56" class="s"/>
<polyline points="97.36,221.6 100.73,222.31 103.48,220.99 105.42,218.23 107.47,214.26 108.79,211.5 110.83,208.85 114.2,205.49 116.65,203.96" class="s"/>
<polyline points="112.06,206.61 113.59,204.87 115.43,203.66 117.22,203.26 120.6,203.26 124.11,203.66 125.23,204.87 127.05,207.83 128.88,212.73 130.7,215.68 133.03,215.68 135.47,215.07 137.29,217.52 139.12,221.19 141.45,224.76 143.88,225.98 145.71,227.21 148.14,230.16 150.47,233.22 152.91,235.67 156.56,238.02 158.89,238.93 164.28,237.61 169.57,235.57 174.96,234.24 178.9,234.24 182.21,235.57 185.53,237.61 187.53,238.32 190.14,236.28 192.85,232.31 195.46,227.61 198.06,222.21 200.07,218.13 202.68,216.8 204.69,212.83 206.69,208.14 208.8,203.85" class="s"/>
<polyline points="125.23,205.18 127.25,208.85 129.08,213.54 130.9,216.4" class="s"/>
<polyline points="142.97,257.49 145.71,254.54 149.05,251.48 154.23,247.91 159.4,248.83 162.96,246.17 165.5,241.79 167.63,236.28 169.57,230.88 171.6,228.02 174.24,228.94 176.99,230.88 179.61,232.31 182.21,234.24 185.53,237 188.13,237.61 190.84,235.57 193.45,230.88 196.06,225.57 198.77,220.17 200.67,216.19 203.38,212.11 205.99,206.81 208.8,203.56" class="s"/>
<polyline points="30.5,263.51 32.84,264.33 35.09,267.61 37.43,274.45 38.8,279.45 40.36,283.94 41.43,287.3 42.8,289.74 44.66,288.44 46.32,285.65 47.88,283.49 49.44,281.67 51.1,280.95 53.44,281.3 55.98,281.61 58.85,279.83 62.25,276.96 64.26,275.75 66.6,275.41 68.71,275.71 70.72,276.55 73.04,277.42 75.35,276.99 77.66,274.63 79.87,269.94 81.78,266.27 83.59,263.92 85.01,263.41 86.85,264.43 89.6,268.1 91.95,271.87 94.91,278.3 96.65,283.4 99.4,288.7 102.06,294.1 104.71,299.51 106.75,304.81 109.4,310.11 112.16,312.69 114.81,313.97" class="s"/>
<polyline points="110.22,254.64 112.67,252.19 115.84,251.07 119.73,253.01 123.5,257.9 127.56,261.06 129.08,265.96" class="s"/>
<polyline points="101.34,293.29 103.79,285.23 106.95,275.65 110.22,269.12 113.49,265.14 116.65,263.51 119.73,262.69 123.5,258.72" class="s"/>
<polyline points="202.58,265.35 205.19,261.06 207.7,258.41 209.1,258.11" class="s"/>
<polyline points="138.61,291.55 142.36,290.33 145,291.96 147.64,293.59 150.37,294.1 153.52,292.98 156.76,291.96 159.91,291.45 164.28,291.45 167.94,290.84 170.68,289.82 172.82,286.56 174.96,282.78 178,281.25 181.71,281.76 184.92,283.4 188.03,286.56 190.74,290.33 192.85,294.1 194.96,298.39 197.06,301.65 199.67,304.3 201.78,309.02 204.99,312.19 208.9,314.27" class="s"/>
<polyline points="30.5,291.96 35.67,293.6 40.85,295.74 45.93,297.89 50.12,298.91 54.39,300.13 57.79,299.62 61.08,297.49 64.48,295.35 67.2,294.83 70.92,296.45 74.34,298.8 76.35,299.92 79.57,299.1 82.69,296.96 85.93,295.84 90.21,295.84 94.5,296.45 97.77,297.98 100.42,300.73 103.08,303.89 105.83,306.65 108.49,308.72 111.45,312.69 114.1,313.97 118.09,314.27 121.85,314.27 125.83,314.67 128.47,315.26" class="s"/>
<polyline points="30.5,295.74 33.62,296.76 36.75,297.67 42.8,298.59 47.59,298.91 50.12,299.21 53.33,302.27 57.79,306.04 62.25,309.72 66.7,313.38 70.92,317.04 74.34,320.51 77.46,323.87 80.98,327.04 82.59,331.69 84.4,334.27 87.05,334.07 90.62,332.98 96.03,329.91 100.32,325.75 104.1,321 107.87,315.26 110.53,312.49 113.08,314.07" class="s"/>
<polyline points="30.5,314.27 34.7,312.69 38.8,309.02 42.9,304.3 47,300.53 50.12,298.91" class="s"/>
<polyline points="50.12,299.21 52.27,304.31 53.86,310.61 56.09,314.76 58.32,317.04 62.25,317.54 65.54,315.46 67.2,313.38 69.32,311.3 71.13,309.72 74.24,309.72 76.86,311.3 79.07,313.87 81.18,317.04 83.49,321.4 86.03,324.86 89.6,326.25 94.91,323.68 99.3,319.42 102.97,314.27 105.93,309.52 109,304 112.06,298.9 115.63,295.12 119.54,293.49" class="s"/>
<polyline points="76.35,321.4 78.47,315.95 80.58,310.8 83.29,307.64 85.93,305.53 89.19,303.38 92.36,303.38 95.62,305.02 98.28,306.65 100.93,306.65 104.2,304.4 106.65,299.3 109.81,295.02 113.08,292.88 116.84,292.37 120.31,292.88 123.4,293.9 126.04,295.53 128.78,298.18 130.9,300.94 133.03,303.08 136.18,304.1 138.92,306.84 141.55,309.91 143.68,312.59 145.51,315.26 146.72,318.43 150.17,324.76 153.01,327.14 157.37,327.83 161.63,327.54 164.58,326.15 167.43,322.59 169.57,317.73 171.19,312.19 172.82,308.53 174.96,306.44 178,306.14 182.82,306.44 187.03,306.44 190.14,304.81 192.35,302.16 194.45,298.39" class="s"/>
<polyline points="79.97,311.99 81.68,311.3 84.3,309.71 86.44,311.79 88.58,315.95 90.72,319.12 93.48,320.11 96.13,319.12 98.79,316.55 101.54,312.88 104.2,308.72 106.34,305.53 108.49,302.87 110.53,299.41 113.08,296.35 116.84,295.02 120.31,293.9" class="s"/>
<polyline points="103.38,305.73 106.65,308.92 109.81,311.99 113.08,314.07 116.84,314.67 120.31,314.67 124.52,314.67 127.66,313.08 130.3,311 131.92,309.91" class="s"/>
<polyline points="104.4,301.45 107.47,297.37 110.53,294.82 114.1,295.02 120.31,293.9 124.42,295.33 129.79,299.81 131.92,304.1 134.05,305.73 137.09,307.04 139.12,309.02" class="s"/>
<polyline points="193.35,318.43 196.56,312.19 199.17,306.94 201.78,301.65 204.99,296.76 208.7,293.59" class="s"/>
<polyline points="202.88,318.43 205.99,315.26 208.7,313.77" class="s"/>
<polyline points="138.61,330.31 142.97,331.5 147.23,330.31 151.59,329.32 155.85,330.11 160.21,330.61 167.43,331.3 173.23,332.09 177.6,332.49 182.62,331.1 186.83,327.54 191.14,321.89 194.65,316.25 196.86,313.48" class="s"/>
<polyline points="171.09,331.5 177.6,332.88 182.62,331.6 186.83,328.13 191.14,322.39 194.65,316.74" class="s"/>
<polyline points="104.4,331.89 108.28,324.37 110.53,321.2 112.77,319.62 115.63,319.71 117.22,320.7 120.31,325.66 122.14,330.7 123.3,335.06 127.86,335.06 131.01,336.25 133.54,338.82 134.86,341.3" class="s"/>
<polyline points="128.47,319.42 130.4,324.37 133.54,328.82 137.39,331.89 141.25,331.89 144.69,331.3" class="s"/>
<polyline points="144.39,313.48 147.23,319.12 150.17,324.76" class="s"/>
<polyline points="177.6,333.18 175.36,335.95 173.23,341.6 171.6,346.15" class="s"/>
<polyline points="169.57,366.94 171.8,362.68 174.65,361.3 179.71,360.6 184.02,358.53 186.83,354.27 189.04,348.62 191.14,341.6 193.95,334.57 197.56,327.54 201.07,321.89 204.69,317.73 208.2,314.17" class="s"/>
<polyline points="198.27,341.6 200.37,337.34 203.28,335.65 206.79,335.56 208.9,335.65" class="s"/>
<polyline points="30.5,313.97 33.62,315.26 35.38,316.05 38.51,315.26 41.53,314.17 43.88,313.38 45.44,314.17 46.9,316.84 48.07,320.01 49.25,323.87 50.42,327.83 51.63,329.12 55.13,329.91 58.96,332.78 61.4,336.94 63.95,341 66.49,344.57 68.91,343.38 71.83,341.6 75.45,339.91 77.46,338.72" class="s"/>
<polyline points="45.83,346.55 48.85,344.76 50.61,344.17 53.12,347.14 55.67,349.52 58.21,350.8 61.5,349.52 64.69,347.14 66.6,345.36 69.01,344.17 70.92,343.58" class="s"/>
<polyline points="30.89,295.84 33.53,297.27 35.58,299 37.53,301.04 38.9,303.18 40.26,305.32 41.53,307.34 42.9,309.42 44.27,311.4 45.54,313.97" class="s"/>
<polyline points="49.64,328.63 50.81,333.28 52.06,337.73 54.39,345.36 56.94,353.77 59.49,361 61.5,366.25" class="s"/>
<polyline points="30.5,318.13 33.62,319.22 35.67,321.79 37.14,324.37 38.31,328.63 39.97,334.27 41.83,339.22 44.17,345.65 46.61,351.6 48.56,357.54 49.83,362.98 50.42,366.25" class="s"/>
<polyline points="38.8,366.25 41.14,363.38 43.48,361 45.24,362.19 46.41,365.75" class="s"/>
<polyline points="84.4,328.72 87.97,326.94 91.64,324.86 95.62,322.88 100.32,318.92 103.59,314.27 106.75,309.02 109.51,304.81 112.57,299.41 115.63,295.84 119.54,293.8" class="s"/>
<polyline points="83.69,338.23 87.46,336.94 91.13,334.57 94.81,331 98.58,326.15 101.03,321.4" class="s"/>
<polyline points="78.26,346.55 81.28,345.95 84.3,345.95 87.46,345.36 91.13,343.58 94.2,342.39 97.36,341.79 99.81,341.2 102.26,338.23 104.71,333.38 107.16,328.63 108.49,326.15" class="s"/>
<polyline points="101.03,365.75 103.48,361.59 105.32,362.19 107.16,365.16" class="s"/>
<polyline points="104.4,361.99 106.95,365.65" class="s"/>
<polyline points="45.54,313.97 46.61,317.44 47.59,321.4 48.56,324.86 49.64,328.63" class="d"/>
<polyline points="41.43,275.05 42.22,277.8 43.09,280.65 43.88,284.49 44.66,287.83 45.73,291.69 46.51,293.92" class="d"/>
<polyline points="31.96,205.08 34.01,209.67 35.77,215.17 37.14,222.31 38.12,227.72 39.19,233.02 40.17,238.44 41.24,243.88 42.31,248.22 43.29,252.6 44.36,259.51 46.12,264.61 47.88,268.34" class="d"/>
<polyline points="39.77,209.46 40.56,214.26 41.34,220.78 42.02,227.21 42.8,235.28 43.58,241.75 44.36,248.3 45.14,254.91" class="d"/>
<polyline points="34.01,256.69 36.26,261.6 37.43,265.19 39.19,271.33 40.36,276.13 42.02,282.14 43.68,288.23" class="d"/>
<polyline points="31.67,272.39 33.43,275.96 35.38,279.02 37.43,282.08" class="d"/>
<polyline points="67.61,293.3 68.81,286.9 70.22,280.5 71.43,276.53 72.23,273.57 73.84,268.66 75.45,260.58 77.06,252.51 78.57,244.44 80.18,237.2 81.78,226.7 83.49,220.88" class="d"/>
<polyline points="102.06,242.3 104.4,234.14 106.44,227 108.49,219.86 110.53,212.73 112.57,207.63 115.12,204.57 116.65,203.75" class="d"/>
<polyline points="103.89,239.24 106.65,231.08 109,222.92 111.04,216.8 113.08,210.18 115.12,205.89 116.65,204.16" class="d"/>
<polyline points="102.87,233.12 104.91,227.61 107.47,220.88 109.51,215.79 112.16,211.5 114.61,206.61" class="d"/>
<polyline points="129.49,216.3 131.31,222.31 132.53,227.21 133.64,232 134.86,236.89 136.38,246.07 138.71,252.5 141.15,256.07 142.97,257.49" class="d"/>
<polyline points="129.08,265.96 130.7,272.38 132.32,276.46 133.95,280.44 136.38,288.5 137.9,293.29" class="d"/>
<polyline points="110.22,254.64 108.59,259.43 106.95,265.96 105.42,272.38 103.79,280.44 102.16,291.66" class="d"/>
<polyline points="202.58,265.35 199.97,272.38 197.46,279.32 194.85,286.35 193.15,293.29 192.25,297.37" class="d"/>
<polyline points="199.67,277.99 198.06,283.4 196.56,288.7 195.26,294.1" class="d"/>
<polyline points="106.75,277.99 104.71,286.05 102.67,294.1 100.73,300.83 98.69,308.82 96.65,316.65 95.32,323.08 93.99,328.33" class="d"/>
<polyline points="108.79,277.99 106.75,286.05 104.71,294.1 102.67,302.16 100.73,310.11 99.4,317.93 97.97,328.33" class="d"/>
<polyline points="134.05,281.05 135.16,284.31 136.18,287.48 138.31,290.74" class="d"/>
<polyline points="133.03,311 134.05,313.08 135.16,316.15 136.18,319.32" class="d"/>
<polyline points="138.31,308.92 139.93,313.08 141.55,317.24 142.57,320.41" class="d"/>
<polyline points="44.95,291.48 45.93,294.33 47.1,297.38 48.56,301.45 49.54,305.53" class="d"/>
<polyline points="31.48,297.37 33.92,302.47 35.87,307.54 37.82,312.98 39.77,318.43 41.73,323.87 43.68,329.32 45.63,335.26 47.59,342.19 49.05,349.12 50.03,357.04 51.21,366.25" class="d"/>
<polyline points="33.43,296.35 35.87,301.45 38.31,306.55 40.26,312.49 42.22,318.43 44.17,324.37 46.12,330.31 48.27,337.24 50.03,343.18 52.06,349.12 53.65,355.06 54.71,361" class="d"/>
<polyline points="45.83,321.4 48.27,328.63 50.51,335.26 53.12,342.98 55.67,350.21 57.36,356.05 58.96,361.99" class="d"/>
<polyline points="35.38,297.37 37.33,301.45 39.29,305.53 40.75,309.52 42.22,313.48" class="d"/>
<polyline points="74.04,363.38 75.25,354.96 77.06,347.73 78.47,341.2 79.97,334.27 81.48,327.34 82.99,321.4" class="d"/>
<polyline points="75.25,366.25 76.45,360.01 77.96,353.08 79.47,347.14 80.98,340.21 82.49,334.27 84,328.33" class="d"/>
<polyline points="99.81,362.19 101.65,354.96 103.48,347.73 104.91,341.2" class="d"/>
<polyline points="70.02,338.72 72.43,333.97 74.85,329.91 77.26,325.16 79.57,319.91 81.38,315.85 82.99,311.99" class="d"/>
<polyline points="116.65,344.47 117.22,350.7 117.8,357.04 118.48,363.18" class="d"/>
<polyline points="134.86,341.3 136.18,346.64 137.39,351.6 138.71,356.55 139.93,361.5 141.25,365.65" class="d"/>
<polyline points="134.86,319.42 136.79,324.37 138.61,330.8 139.62,335.26" class="d"/>
<polyline points="138.1,335.65 140.03,341.69 141.25,347.83 142.57,354.07 143.78,360.21 144.69,365.65" class="d"/>
<polyline points="140.74,313.48 142.26,321.89 144.39,333.18 146.52,341.6 148.65,348.62 150.88,355.65 153.01,362.68" class="d"/>
<polyline points="138.61,334.57 140.13,343.18 142.26,354.27 144.39,364.07" class="d"/>
<polyline points="104.4,326.94 105.73,333.28 106.95,339.22 107.98,345.16" class="d"/>
<polyline points="171.6,346.15 168.85,352.88 166.72,358.53 165.29,364.07" class="d"/>
<polyline points="198.27,341.6 196.86,347.24 195.36,354.27 193.95,359.91 193.25,364.07" class="d"/>
<rect x="30.5" y="195.38" width="178.6" height="169.57" class="fr"/>
<line x1="30.5" y1="354.97" x2="33.3" y2="354.97" class="t"/>
<line x1="209.1" y1="354.97" x2="206.3" y2="354.97" class="t"/>
<line x1="30.5" y1="345" x2="35" y2="345" class="t"/>
<line x1="209.1" y1="345" x2="204.6" y2="345" class="t"/>
<line x1="30.5" y1="335.02" x2="33.3" y2="335.02" class="t"/>
<line x1="209.1" y1="335.02" x2="206.3" y2="335.02" class="t"/>
<line x1="30.5" y1="325.05" x2="35" y2="325.05" class="t"/>
<line x1="209.1" y1="325.05" x2="204.6" y2="325.05" class="t"/>
<line x1="30.5" y1="315.07" x2="33.3" y2="315.07" class="t"/>
<line x1="209.1" y1="315.07" x2="206.3" y2="315.07" class="t"/>
<line x1="30.5" y1="305.1" x2="35" y2="305.1" class="t"/>
<line x1="209.1" y1="305.1" x2="204.6" y2="305.1" class="t"/>
<line x1="30.5" y1="295.12" x2="33.3" y2="295.12" class="t"/>
<line x1="209.1" y1="295.12" x2="206.3" y2="295.12" class="t"/>
<line x1="30.5" y1="285.15" x2="35" y2="285.15" class="t"/>
<line x1="209.1" y1="285.15" x2="204.6" y2="285.15" class="t"/>
<line x1="30.5" y1="275.18" x2="33.3" y2="275.18" class="t"/>
<line x1="209.1" y1="275.18" x2="206.3" y2="275.18" class="t"/>
<line x1="30.5" y1="265.2" x2="35" y2="265.2" class="t"/>
<line x1="209.1" y1="265.2" x2="204.6" y2="265.2" class="t"/>
<line x1="30.5" y1="255.22" x2="33.3" y2="255.22" class="t"/>
<line x1="209.1" y1="255.22" x2="206.3" y2="255.22" class="t"/>
<line x1="30.5" y1="245.25" x2="35" y2="245.25" class="t"/>
<line x1="209.1" y1="245.25" x2="204.6" y2="245.25" class="t"/>
<line x1="30.5" y1="235.27" x2="33.3" y2="235.27" class="t"/>
<line x1="209.1" y1="235.27" x2="206.3" y2="235.27" class="t"/>
<line x1="30.5" y1="225.3" x2="35" y2="225.3" class="t"/>
<line x1="209.1" y1="225.3" x2="204.6" y2="225.3" class="t"/>
<line x1="30.5" y1="215.32" x2="33.3" y2="215.32" class="t"/>
<line x1="209.1" y1="215.32" x2="206.3" y2="215.32" class="t"/>
<line x1="30.5" y1="205.35" x2="35" y2="205.35" class="t"/>
<line x1="209.1" y1="205.35" x2="204.6" y2="205.35" class="t"/>
<text x="29.1" y="369.25" class="tl">-5</text>
<text x="29.1" y="349.3" class="tl">-4</text>
<text x="29.1" y="329.35" class="tl">-3</text>
<text x="29.1" y="309.4" class="tl">-2</text>
<text x="29.1" y="289.45" class="tl">-1</text>
<text x="29.1" y="269.5" class="tl">0</text>
<text x="29.1" y="249.55" class="tl">1</text>
<text x="29.1" y="229.6" class="tl">2</text>
<text x="29.1" y="209.65" class="tl">3</text>
<text x="26.9" y="375.25" class="xg">Γ</text>
<text x="47.5" y="376.25" class="xl">K</text><text x="54.3" y="379.65" class="sub">2</text>
<text x="67.2" y="376.25" class="xl" text-anchor="middle">K</text>
<text x="85.2" y="376.25" class="xl" text-anchor="middle">M</text>
<text x="113.35" y="375.25" class="xg">Γ</text>
<text x="123.9" y="376.25" class="xl" text-anchor="middle">A</text>
<text x="160.2" y="376.25" class="xl" text-anchor="middle">H</text>
<text x="178.2" y="376.25" class="xl" text-anchor="middle">L</text>
<text x="209.7" y="376.25" class="xl" text-anchor="middle">A</text>
<text x="129.9" y="208" class="pr">34 GPa</text>
<text x="178.7" y="260.1" class="lb">(c)</text>
<rect x="51.7" y="251.1" width="11.9" height="23.1" class="ob"/>
<text transform="translate(10.6,308.9) rotate(-90) scale(0.974,1)" class="yl">E-E<tspan class="ysub" dy="4.2">F</tspan><tspan dy="-4.2"> (eV)</tspan></text>
<line x1="271.9" y1="193.5" x2="271.9" y2="365.2" class="g"/>
<line x1="287.3" y1="193.5" x2="287.3" y2="365.2" class="g"/>
<line x1="305.7" y1="193.5" x2="305.7" y2="365.2" class="g"/>
<line x1="337.4" y1="193.5" x2="337.4" y2="365.2" class="g"/>
<line x1="344.1" y1="193.5" x2="344.1" y2="365.2" class="g"/>
<line x1="381" y1="193.5" x2="381" y2="365.2" class="g"/>
<line x1="399.4" y1="193.5" x2="399.4" y2="365.2" class="g"/>
<line x1="250.3" y1="264.5" x2="435" y2="264.5" class="r"/>
<polyline points="250.71,201.98 253.58,206.33 255.93,209.95 257.98,208.92 260.03,207.67" class="s"/>
<polyline points="250.71,201.98 252.86,205.81 255.11,212.02 256.75,217.5 258.9,221.85 262.07,224.02 265.35,226.2 268.52,230.05 270.67,231.74 272.32,229.45 275.17,225.07 278.12,220.72 280.34,217.3 284.03,220.09 287.3,222.68 289.56,220.71 292.75,217.71 296.04,221.54 297.89,224.43 300.15,227.54 302,230.12 303.13,232.09 304.67,233.54 306.92,235.09 309.14,237.37 311.88,239.23 315.02,241.3 317.75,242.23 320.39,241.09 323.02,237.06 325.04,232.92 327.07,228.88 329.1,224.74" class="s"/>
<polyline points="270.67,231.74 273.38,227.57 275.49,225.49 277.17,224.03 279.18,225.49 280.23,227.88 281.29,230.59 284.66,236.33 287.4,241.02 289.46,243.28 291.82,244.47 294.39,243.91 296.76,241.62 298.61,238.92 300.46,236.54 302,233.95 303.13,232.09 305.39,229.81 307.12,228.57 309.75,226.81 312.38,224.12 315.02,219.36 317.75,214.5" class="s"/>
<polyline points="251.84,203.74 253.88,208.4 255.62,212.54 257.26,218.54 259.92,225.06 263.2,231.59 266.37,238.31 269.14,243.96 271.29,249.95 272.95,254.25 274.64,259.05 276.22,264.22 278.12,268.18 279.6,270.57 282.03,273.86 282.98,275.98 284.87,278.46 287.3,279.71 289.15,278.71 291.31,276.29" class="s"/>
<polyline points="250.3,249.89 253.58,250.62 255.93,253.53 259.21,259.32 262.38,263.66 266.47,266.6 269.75,268.91 272.11,269.73 274.64,266.71 276.22,264.42 279.6,257.59 282.98,250.24 285.51,244.82 287.4,241.02 290.28,237.41 293.26,235.1 296.35,234.16 298.61,234.78 300.46,236.54 302.41,238.5 304.26,240.06 306.21,241.19 309.14,242.64 312.38,244.5 316.44,246.57 319.07,245.85 321.09,242.44 323.02,238.4 325.75,232.92" class="s"/>
<polyline points="303.03,217.92 305.49,218.43 308.43,221.33 311.07,224.74 313.7,228.16 316.44,230.23 320.39,230.85 323.02,229.5 325.04,226.81 327.07,223.4 329.1,217.71 329.91,214.09 331.02,208.92 333.75,204.26 337.5,201.68" class="s"/>
<polyline points="318.36,219.99 321.7,220.71 324.44,219.36 326.36,216.57 328.39,212.54 329.7,209.74 331.73,207.05 335.07,203.64 337.5,202.09" class="s"/>
<polyline points="332.94,204.78 334.46,203.02 336.29,201.78 338.07,201.38 341.42,201.38 344.92,201.78 346.06,203.02 347.91,206.02 349.77,210.98 351.62,213.98 353.99,213.98 356.47,213.36 358.32,215.85 360.18,219.57 362.55,223.19 365.02,224.43 366.88,225.68 369.35,228.68 371.72,231.78 374.2,234.26 377.91,236.64 380.28,237.57 385.78,236.23 391.19,234.16 396.7,232.81 400.72,232.81 404.09,234.16 407.45,236.23 409.49,236.95 412.14,234.88 414.89,230.85 417.54,226.09 420.19,220.61 422.23,216.47 424.88,215.12 426.92,211.09 428.95,206.33 431.09,201.98" class="s"/>
<polyline points="346.06,203.33 348.12,207.05 349.98,211.81 351.83,214.71" class="s"/>
<polyline points="364.1,256.4 366.88,253.4 370.28,250.3 375.54,246.68 380.79,247.61 384.43,244.92 387.03,240.47 389.21,234.88 391.19,229.4 393.27,226.5 395.97,227.43 398.78,229.4 401.44,230.85 404.09,232.81 407.45,235.61 410.1,236.23 412.85,234.16 415.5,229.4 418.15,224.02 420.9,218.54 422.84,214.5 425.59,210.36 428.24,204.98 431.09,201.68" class="s"/>
<polyline points="250.3,262.51 252.76,263.34 255.11,266.67 257.57,273.62 259,278.69 260.64,283.24 261.77,286.65 263.2,289.13 265.14,287.82 266.88,285.01 268.52,282.86 270.16,281.06 271.9,280.38 274.22,280.75 276.75,281.05 279.6,279.27 282.98,276.36 284.98,275.1 287.3,274.7 289.46,274.95 291.51,275.77 293.88,276.63 296.24,276.19 298.61,273.79 300.87,269.03 302.82,265.3 304.67,262.92 306.11,262.4 307.93,263.44 310.66,267.16 312.99,270.99 315.93,277.51 317.65,282.68 320.39,288.06 323.02,293.54 325.65,299.03 327.68,304.41 330.31,309.77 333.05,312.38 335.68,313.68" class="s"/>
<polyline points="331.12,253.51 333.55,251.02 336.69,249.88 340.56,251.85 344.31,256.82 348.43,260.02 349.98,264.99" class="s"/>
<polyline points="322.31,292.71 324.74,284.54 327.88,274.82 331.12,268.2 334.36,264.16 337.5,262.51 340.56,261.68 344.31,257.64" class="s"/>
<polyline points="424.78,264.37 427.43,260.02 429.97,257.33 431.4,257.02" class="s"/>
<polyline points="359.66,290.96 363.48,289.71 366.16,291.37 368.84,293.03 371.62,293.54 374.82,292.4 378.11,291.37 381.31,290.85 385.78,290.85 389.52,290.23 392.33,289.2 394.51,285.89 396.7,282.06 399.81,280.51 403.58,281.02 406.84,282.68 410,285.89 412.75,289.71 414.89,293.54 417.03,297.89 419.17,301.2 421.82,303.89 423.96,308.67 427.22,311.88 431.2,313.99" class="s"/>
<polyline points="250.3,291.37 255.73,293.03 261.15,295.2 266.47,297.38 270.88,298.42 275.17,299.66 278.55,299.15 281.82,296.98 285.19,294.81 287.92,294.28 291.72,295.93 295.22,298.3 297.27,299.44 300.56,298.61 303.75,296.44 307.02,295.3 311.27,295.3 315.52,295.92 318.76,297.47 321.4,300.27 324.03,303.47 326.77,306.27 329.4,308.37 332.34,312.38 334.97,313.68 338.93,313.99 342.66,313.99 346.68,314.39 349.36,314.99" class="s"/>
<polyline points="250.3,295.2 253.58,296.23 256.85,297.16 263.2,298.1 268.21,298.42 270.88,298.73 274.12,301.83 278.55,305.65 282.98,309.37 287.4,313.08 291.72,316.79 295.22,320.3 298.4,323.71 302,326.92 303.64,331.63 305.49,334.24 308.13,334.03 311.68,332.93 317.04,329.82 321.3,325.61 325.04,320.8 328.79,314.99 331.42,312.18 333.96,313.78" class="s"/>
<polyline points="250.3,313.99 254.7,312.38 259,308.67 263.3,303.89 267.6,300.07 270.88,298.42" class="s"/>
<polyline points="270.88,298.73 273.06,303.89 274.64,310.28 276.86,314.49 279.07,316.79 282.98,317.29 286.25,315.19 287.92,313.08 290.08,310.98 291.93,309.37 295.11,309.37 297.78,310.98 300.05,313.58 302.21,316.79 304.57,321.2 307.12,324.71 310.66,326.12 315.93,323.51 320.28,319.2 323.93,313.99 326.87,309.17 329.91,303.58 332.94,298.41 336.49,294.58 340.37,292.92" class="s"/>
<polyline points="297.27,321.2 299.43,315.69 301.59,310.48 304.36,307.27 307.02,305.13 310.26,302.96 313.4,302.96 316.64,304.61 319.27,306.27 321.9,306.27 325.15,303.99 327.58,298.82 330.72,294.47 333.96,292.3 337.69,291.78 341.13,292.3 344.2,293.34 346.88,294.99 349.67,297.68 351.83,300.47 353.99,302.65 357.19,303.68 359.97,306.47 362.65,309.57 364.82,312.28 366.67,314.99 367.91,318.2 371.41,324.61 374.3,327.02 378.73,327.72 383.08,327.42 386.09,326.02 389,322.41 391.19,317.49 392.85,311.88 394.51,308.17 396.7,306.06 399.81,305.75 404.7,306.06 408.98,306.06 412.14,304.41 414.38,301.72 416.52,297.89" class="s"/>
<polyline points="300.97,311.68 302.72,310.98 305.39,309.37 307.52,311.48 309.65,315.69 311.78,318.9 314.51,319.9 317.14,318.9 319.78,316.29 322.51,312.58 325.15,308.37 327.27,305.13 329.4,302.44 331.42,298.92 333.96,295.82 337.69,294.47 341.13,293.34" class="s"/>
<polyline points="324.34,305.34 327.58,308.57 330.72,311.68 333.96,313.78 337.69,314.39 341.13,314.39 345.34,314.39 348.53,312.78 351.21,310.68 352.86,309.57" class="s"/>
<polyline points="325.35,300.99 328.39,296.85 331.42,294.27 334.97,294.47 341.13,293.34 345.23,294.78 350.7,299.34 352.86,303.68 355.03,305.34 358.12,306.67 360.18,308.67" class="s"/>
<polyline points="415.4,318.2 418.66,311.88 421.31,306.57 423.96,301.2 427.22,296.23 430.99,293.03" class="s"/>
<polyline points="425.08,318.2 428.24,314.99 430.99,313.48" class="s"/>
<polyline points="359.66,330.23 364.1,331.43 368.43,330.23 372.86,329.22 377.19,330.02 381.62,330.53 389,331.23 394.93,332.03 399.4,332.43 404.5,331.03 408.78,327.42 413.16,321.7 416.72,315.99 418.97,313.18" class="s"/>
<polyline points="392.75,331.43 399.4,332.83 404.5,331.53 408.78,328.02 413.16,322.21 416.72,316.49" class="s"/>
<polyline points="325.35,331.83 329.2,324.21 331.42,321 333.65,319.4 336.49,319.5 338.07,320.5 341.13,325.51 342.95,330.63 344.1,335.04 348.74,335.04 351.93,336.24 354.51,338.85 355.85,341.35" class="s"/>
<polyline points="349.36,319.2 351.32,324.21 354.51,328.72 358.43,331.83 362.34,331.83 365.85,331.23" class="s"/>
<polyline points="365.54,313.18 368.43,318.9 371.41,324.61" class="s"/>
<polyline points="399.4,333.13 397.11,335.94 394.93,341.65 393.27,346.27" class="s"/>
<polyline points="391.19,367.32 393.47,363.01 396.39,361.6 401.54,360.9 405.92,358.8 408.78,354.49 411.02,348.77 413.16,341.65 416.01,334.54 419.68,327.42 423.25,321.7 426.92,317.49 430.48,313.88" class="s"/>
<polyline points="420.39,341.65 422.53,337.34 425.49,335.64 429.06,335.54 431.2,335.64" class="s"/>
<polyline points="250.3,313.68 253.58,314.99 255.42,315.79 258.69,314.99 261.87,313.89 264.32,313.08 265.96,313.89 267.5,316.59 268.73,319.8 269.95,323.71 271.18,327.72 272.43,329.02 275.91,329.82 279.71,332.73 282.13,336.94 284.66,341.05 287.19,344.66 289.66,343.46 292.65,341.65 296.35,339.95 298.4,338.75" class="s"/>
<polyline points="266.37,346.67 269.55,344.86 271.39,344.26 273.9,347.27 276.44,349.67 278.97,350.98 282.24,349.67 285.4,347.27 287.3,345.46 289.77,344.26 291.72,343.66" class="s"/>
<polyline points="250.71,295.3 253.47,296.75 255.62,298.51 257.67,300.58 259.1,302.75 260.54,304.92 261.87,306.97 263.3,309.07 264.73,311.08 266.06,313.68" class="s"/>
<polyline points="270.36,328.52 271.59,333.23 272.85,337.74 275.17,345.46 277.7,353.98 280.23,361.3 282.24,366.62" class="s"/>
<polyline points="250.3,317.89 253.58,319 255.73,321.6 257.26,324.21 258.49,328.52 260.23,334.24 262.17,339.25 264.63,345.76 267.19,351.78 269.24,357.79 270.57,363.31 271.18,366.62" class="s"/>
<polyline points="259,366.62 261.46,363.71 263.92,361.3 265.76,362.51 266.99,366.11" class="s"/>
<polyline points="305.49,328.62 309.04,326.82 312.69,324.71 316.64,322.71 321.3,318.7 324.54,313.99 327.68,308.67 330.41,304.41 333.45,298.92 336.49,295.3 340.37,293.23" class="s"/>
<polyline points="304.77,338.25 308.54,336.94 312.18,334.54 315.83,330.93 319.58,326.02 322.01,321.2" class="s"/>
<polyline points="299.22,346.67 302.31,346.06 305.39,346.06 308.54,345.46 312.18,343.66 315.22,342.46 318.36,341.85 320.79,341.25 323.22,338.25 325.65,333.33 328.08,328.52 329.4,326.02" class="s"/>
<polyline points="322.01,366.11 324.44,361.9 326.26,362.51 328.08,365.51" class="s"/>
<polyline points="325.35,362.3 327.88,366.01" class="s"/>
<polyline points="266.06,313.68 267.19,317.19 268.21,321.2 269.24,324.71 270.36,328.52" class="d"/>
<polyline points="261.77,274.26 262.58,277.05 263.51,279.93 264.32,283.82 265.14,287.2 266.27,291.11 267.09,293.37" class="d"/>
<polyline points="251.84,203.23 253.99,207.88 255.83,213.47 257.26,220.71 258.28,226.19 259.41,231.58 260.43,237.08 261.56,242.61 262.69,247.04 263.71,251.53 264.84,258.61 266.68,263.87 268.52,267.72" class="d"/>
<polyline points="260.03,207.67 260.84,212.54 261.66,219.16 262.38,225.68 263.2,233.87 264.02,240.46 264.84,247.15 265.66,253.94" class="d"/>
<polyline points="253.99,255.59 256.34,260.58 257.57,264.23 259.41,270.48 260.64,275.34 262.38,281.43 264.12,287.6" class="d"/>
<polyline points="251.53,271.51 253.37,275.13 255.42,278.24 257.57,281.36" class="d"/>
<polyline points="288.33,292.74 289.56,286.25 291,279.77 292.23,275.74 293.06,272.74 294.7,267.75 296.35,259.55 297.99,251.35 299.53,243.16 301.18,235.81 302.82,225.16 304.57,219.26" class="d"/>
<polyline points="323.02,240.99 325.35,232.71 327.37,225.47 329.4,218.23 331.42,210.98 333.45,205.81 335.98,202.71 337.5,201.88" class="d"/>
<polyline points="324.84,237.88 327.58,229.61 329.91,221.33 331.93,215.12 333.96,208.4 335.98,204.05 337.5,202.29" class="d"/>
<polyline points="323.83,231.68 325.85,226.09 328.39,219.26 330.41,214.09 333.05,209.74 335.48,204.78" class="d"/>
<polyline points="350.39,214.61 352.24,220.71 353.48,225.68 354.61,230.54 355.85,235.5 357.4,244.81 359.77,251.33 362.24,254.95 364.1,256.4" class="d"/>
<polyline points="349.98,264.99 351.62,271.51 353.27,275.64 354.92,279.68 357.4,287.85 358.94,292.71" class="d"/>
<polyline points="331.12,253.51 329.5,258.37 327.88,264.99 326.36,271.51 324.74,279.68 323.12,291.06" class="d"/>
<polyline points="424.78,264.37 422.13,271.51 419.58,278.54 416.93,285.68 415.2,292.71 414.28,296.85" class="d"/>
<polyline points="421.82,277.2 420.19,282.68 418.66,288.06 417.34,293.54" class="d"/>
<polyline points="327.68,277.2 325.65,285.37 323.63,293.54 321.7,300.37 319.68,308.47 317.65,316.39 316.33,322.91 315.02,328.22" class="d"/>
<polyline points="329.7,277.2 327.68,285.37 325.65,293.54 323.63,301.72 321.7,309.77 320.39,317.69 318.97,328.22" class="d"/>
<polyline points="355.03,280.3 356.16,283.61 357.19,286.82 359.35,290.13" class="d"/>
<polyline points="353.99,310.68 355.03,312.78 356.16,315.89 357.19,319.1" class="d"/>
<polyline points="359.35,308.57 361,312.78 362.65,316.99 363.68,320.2" class="d"/>
<polyline points="265.45,290.89 266.47,293.78 267.7,296.87 269.24,301 270.26,305.13" class="d"/>
<polyline points="251.32,296.85 253.88,302.03 255.93,307.17 257.98,312.68 260.03,318.2 262.07,323.71 264.12,329.22 266.17,335.24 268.21,342.26 269.75,349.27 270.77,357.29 272.01,366.62" class="d"/>
<polyline points="253.37,295.82 255.93,300.99 258.49,306.16 260.54,312.18 262.58,318.2 264.63,324.21 266.68,330.23 268.93,337.24 270.77,343.26 272.85,349.27 274.43,355.29 275.49,361.3" class="d"/>
<polyline points="266.37,321.2 268.93,328.52 271.29,335.24 273.9,343.06 276.44,350.38 278.12,356.29 279.71,362.3" class="d"/>
<polyline points="255.42,296.85 257.47,300.99 259.51,305.13 261.05,309.17 262.58,313.18" class="d"/>
<polyline points="294.91,363.71 296.14,355.19 297.99,347.87 299.43,341.25 300.97,334.24 302.51,327.22 304.06,321.2" class="d"/>
<polyline points="296.14,366.62 297.37,360.3 298.92,353.28 300.46,347.27 302,340.25 303.54,334.24 305.08,328.22" class="d"/>
<polyline points="320.79,362.51 322.61,355.19 324.44,347.87 325.85,341.25" class="d"/>
<polyline points="290.79,338.75 293.26,333.93 295.73,329.82 298.2,325.01 300.56,319.7 302.41,315.59 304.06,311.68" class="d"/>
<polyline points="337.5,344.56 338.07,350.88 338.64,357.29 339.31,363.51" class="d"/>
<polyline points="355.85,341.35 357.19,346.77 358.43,351.78 359.77,356.79 361,361.8 362.34,366.01" class="d"/>
<polyline points="355.85,319.2 357.81,324.21 359.66,330.73 360.69,335.24" class="d"/>
<polyline points="359.15,335.64 361.11,341.75 362.34,347.97 363.68,354.28 364.92,360.5 365.85,366.01" class="d"/>
<polyline points="361.83,313.18 363.37,321.7 365.54,333.13 367.7,341.65 369.87,348.77 372.14,355.89 374.3,363.01" class="d"/>
<polyline points="359.66,334.54 361.21,343.26 363.37,354.49 365.54,364.41" class="d"/>
<polyline points="325.35,326.82 326.66,333.23 327.88,339.25 328.89,345.26" class="d"/>
<polyline points="393.27,346.27 390.46,353.08 388.28,358.8 386.82,364.41" class="d"/>
<polyline points="420.39,341.65 418.97,347.37 417.44,354.49 416.01,360.2 415.3,364.41" class="d"/>
<rect x="250.3" y="193.5" width="181.1" height="171.7" class="fr"/>
<line x1="250.3" y1="355.1" x2="253.1" y2="355.1" class="t"/>
<line x1="431.4" y1="355.1" x2="428.6" y2="355.1" class="t"/>
<line x1="250.3" y1="345" x2="254.8" y2="345" class="t" style="stroke:#6cc46c"/>
<line x1="431.4" y1="345" x2="426.9" y2="345" class="t" style="stroke:#6cc46c"/>
<line x1="250.3" y1="334.9" x2="253.1" y2="334.9" class="t"/>
<line x1="431.4" y1="334.9" x2="428.6" y2="334.9" class="t"/>
<line x1="250.3" y1="324.8" x2="254.8" y2="324.8" class="t" style="stroke:#6cc46c"/>
<line x1="431.4" y1="324.8" x2="426.9" y2="324.8" class="t" style="stroke:#6cc46c"/>
<line x1="250.3" y1="314.7" x2="253.1" y2="314.7" class="t"/>
<line x1="431.4" y1="314.7" x2="428.6" y2="314.7" class="t"/>
<line x1="250.3" y1="304.6" x2="254.8" y2="304.6" class="t" style="stroke:#6cc46c"/>
<line x1="431.4" y1="304.6" x2="426.9" y2="304.6" class="t" style="stroke:#6cc46c"/>
<line x1="250.3" y1="294.5" x2="253.1" y2="294.5" class="t"/>
<line x1="431.4" y1="294.5" x2="428.6" y2="294.5" class="t"/>
<line x1="250.3" y1="284.4" x2="254.8" y2="284.4" class="t" style="stroke:#6cc46c"/>
<line x1="431.4" y1="284.4" x2="426.9" y2="284.4" class="t" style="stroke:#6cc46c"/>
<line x1="250.3" y1="274.3" x2="253.1" y2="274.3" class="t"/>
<line x1="431.4" y1="274.3" x2="428.6" y2="274.3" class="t"/>
<line x1="250.3" y1="264.2" x2="254.8" y2="264.2" class="t" style="stroke:#6cc46c"/>
<line x1="431.4" y1="264.2" x2="426.9" y2="264.2" class="t" style="stroke:#6cc46c"/>
<line x1="250.3" y1="254.1" x2="253.1" y2="254.1" class="t"/>
<line x1="431.4" y1="254.1" x2="428.6" y2="254.1" class="t"/>
<line x1="250.3" y1="244" x2="254.8" y2="244" class="t" style="stroke:#6cc46c"/>
<line x1="431.4" y1="244" x2="426.9" y2="244" class="t" style="stroke:#6cc46c"/>
<line x1="250.3" y1="233.9" x2="253.1" y2="233.9" class="t"/>
<line x1="431.4" y1="233.9" x2="428.6" y2="233.9" class="t"/>
<line x1="250.3" y1="223.8" x2="254.8" y2="223.8" class="t" style="stroke:#6cc46c"/>
<line x1="431.4" y1="223.8" x2="426.9" y2="223.8" class="t" style="stroke:#6cc46c"/>
<line x1="250.3" y1="213.7" x2="253.1" y2="213.7" class="t"/>
<line x1="431.4" y1="213.7" x2="428.6" y2="213.7" class="t"/>
<line x1="250.3" y1="203.6" x2="254.8" y2="203.6" class="t" style="stroke:#6cc46c"/>
<line x1="431.4" y1="203.6" x2="426.9" y2="203.6" class="t" style="stroke:#6cc46c"/>
<text x="248.9" y="369.5" class="tl">-5</text>
<text x="248.9" y="349.3" class="tl">-4</text>
<text x="248.9" y="329.1" class="tl">-3</text>
<text x="248.9" y="308.9" class="tl">-2</text>
<text x="248.9" y="288.7" class="tl">-1</text>
<text x="248.9" y="268.5" class="tl">0</text>
<text x="248.9" y="248.3" class="tl">1</text>
<text x="248.9" y="228.1" class="tl">2</text>
<text x="248.9" y="207.9" class="tl">3</text>
<text x="246.7" y="375.5" class="xg">Γ</text>
<text x="265.9" y="376.5" class="xl">K</text><text x="272.7" y="379.9" class="sub">2</text>
<text x="287.9" y="376.5" class="xl" text-anchor="middle">K</text>
<text x="306.3" y="376.5" class="xl" text-anchor="middle">M</text>
<text x="334.2" y="375.5" class="xg">Γ</text>
<text x="344.7" y="376.5" class="xl" text-anchor="middle">A</text>
<text x="381.6" y="376.5" class="xl" text-anchor="middle">H</text>
<text x="400" y="376.5" class="xl" text-anchor="middle">L</text>
<text x="432" y="376.5" class="xl" text-anchor="middle">A</text>
<text x="351.7" y="206.7" class="pr">36 GPa</text>
<text x="399.6" y="260.1" class="lb">(d)</text>
<rect x="272.5" y="250.8" width="12.1" height="23.4" class="ob"/>
<text transform="translate(230.1,308.1) rotate(-90) scale(0.974,1)" class="yl">E-E<tspan class="ysub" dy="4.2">F</tspan><tspan dy="-4.2"> (eV)</tspan></text>
</svg>
</body></html>
